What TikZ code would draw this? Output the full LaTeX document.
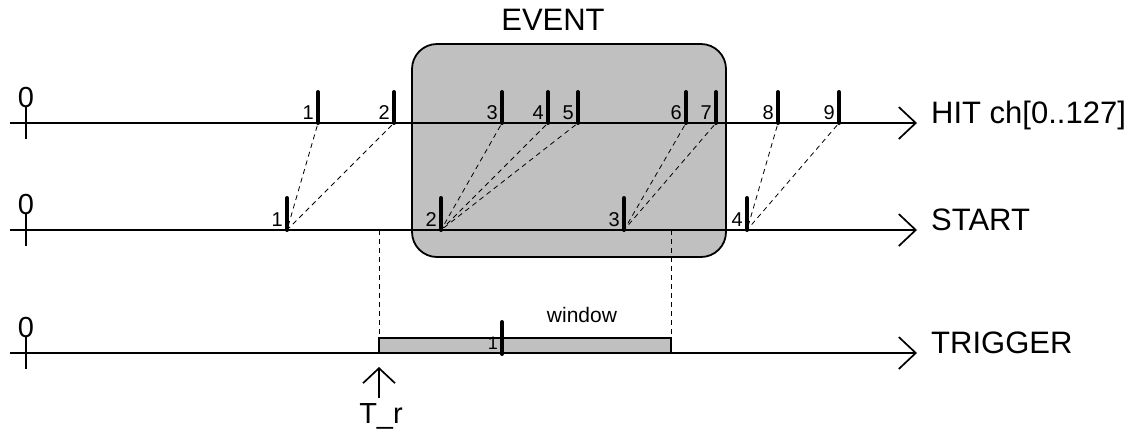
\documentclass[tikz,border=0pt]{standalone}
\usepackage{fontspec}
\setmainfont{Liberation Sans}
\usetikzlibrary{arrows.meta}
\definecolor{boxgray}{RGB}{192,192,192}
\tikzset{
  axisline/.style={line width=1.7pt,-{Straight Barb[length=17pt,width=32pt,line width=1.7pt]}},
  zerotick/.style={line width=1.7pt},
  hitbar/.style={line width=4pt,line cap=round},
  link/.style={line width=0.8pt,dash pattern=on 5pt off 4pt},
  biglabel/.style={inner sep=0pt,font=\fontsize{31}{36}\selectfont},
  midlabel/.style={inner sep=0pt,font=\fontsize{29}{34}\selectfont},
  numlabel/.style={inner sep=0pt,font=\fontsize{20}{24}\selectfont},
}
\begin{document}
\begin{tikzpicture}[x=1pt,y=-1pt]
        \useasboundingbox (0,0) rectangle (1131,432);
        % Evento
        \node[draw,line width=1.8pt,fill=boxgray,rounded corners=25pt,
              minimum width=314pt,minimum height=213pt] (evbox) at (569,150.5) {};
        \node[biglabel,anchor=base] (event) at (553,30) {EVENT};
        % Finestra di trigger
        \coordinate (winA) at (379,338);
        \coordinate (winB) at (671,353);
        \draw[line width=1.8pt,fill=boxgray] (winA) rectangle (winB);
        \node[numlabel,font=\fontsize{21}{25}\selectfont,anchor=base] (win) at (582,322) {window};
        % Assi
        \foreach \ax/\y/\txt in {hit/123/{HIT ch[0..127]},start/230/START,trig/353/TRIGGER} {
            \coordinate (\ax0) at (10,\y);
            \coordinate (\ax1) at (917,\y);
            \draw[axisline] (\ax0) -- (\ax1);
            \draw[zerotick] (26,\y-16) -- (26,\y+16);
            \node[midlabel,anchor=base] (\ax zero) at (26,\y-16) {0};
            \node[biglabel,anchor=base west] (\ax name) at (931,\y) {\txt};
        }
        % Hit
        \foreach \n/\x in {1/318,2/394,3/502,4/548,5/578,6/686,7/716,8/778,9/839} {
            \coordinate (h\n) at (\x,123);
            \draw[hitbar] (h\n) -- ++(0,-31);
            \node[numlabel,anchor=base east] (lh\n) at (\x-4,119) {\n};
        }
        % Start
        \foreach \n/\x in {1/287,2/441,3/624,4/747} {
            \coordinate (s\n) at (\x,230);
            \draw[hitbar] (s\n) -- ++(0,-32);
            \node[numlabel,anchor=base east] (ls\n) at (\x-4,226) {\n};
        }
        \foreach \a/\b in {1/1,2/1,3/2,4/2,5/2,6/3,7/3,8/4,9/4}
            \draw[link,shorten <=3pt,shorten >=3pt] (h\a) -- (s\b);
        % Trigger
        \coordinate (t1) at (502,354);
        \node[numlabel,font=\fontsize{18}{22}\selectfont,anchor=base east] (lt1) at (498,349) {1};
        \draw[hitbar] (t1) -- ++(0,-32);
        \coordinate (wsA) at (379,230);
        \coordinate (wsB) at (671,230);
        \draw[link] (wsA) -- (winA);
        \draw[link] (wsB) -- (winB |- winA);
        % T_r
        \node[midlabel,anchor=base] (tr) at (381,423) {T\_r};
        \coordinate (trfoot) at (379,398);
        \coordinate (trtip) at (379,367);
        \draw[line width=1.7pt,-{Straight Barb[length=15pt,width=32pt,line width=1.7pt]}] (trfoot) -- (trtip);
    \end{tikzpicture}
\end{document}
